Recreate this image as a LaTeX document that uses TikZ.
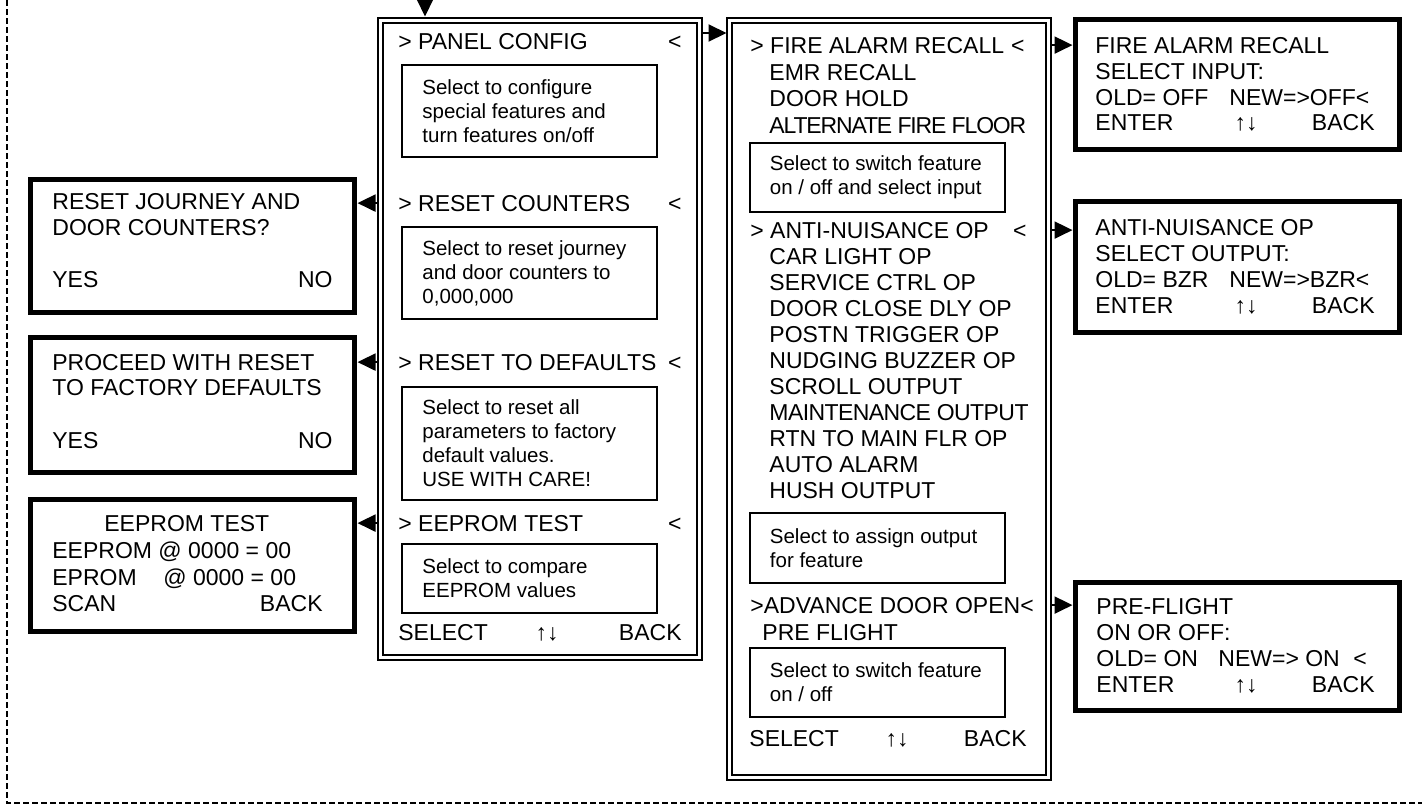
\documentclass[tikz,border=0pt]{standalone}
\usepackage{fontspec}
\setmainfont{Liberation Sans}
\usetikzlibrary{arrows.meta,positioning}
\newcommand\lcdfont{\fontsize{11.5}{13}\selectfont}
\newcommand\hintfont{\fontsize{10.25}{12}\selectfont}
\newcommand\tightlbl[2]{{\addfontfeature{LetterSpace=#1}#2}}
\tikzset{
  x=0.5pt, y=-0.5pt,
  menubox/.style={draw=black,double=white,double distance=1.5pt,line width=1pt,
    outer sep=0pt,inner sep=0pt,anchor=north west,minimum width=159.5pt},
  lcdbox/.style={draw=black,line width=2.5pt,outer sep=0pt,inner sep=0pt,
    anchor=north west,minimum width=162pt},
  hintbox/.style={draw=black,line width=1pt,outer sep=0pt,inner sep=0pt,
    anchor=north west,minimum width=127.5pt},
  hinttxt/.style={align=left,inner sep=0pt,font=\hintfont},
  txt/.style={anchor=base west,inner sep=0pt,font=\lcdfont},
  txtr/.style={anchor=base east,inner sep=0pt,font=\lcdfont},
  txtc/.style={anchor=base,inner sep=0pt,font=\lcdfont},
  flow/.style={-{Triangle[length=9pt,width=8.5pt]},line width=1pt,
    shorten <=1.75pt,shorten >=1.5pt},
  frame/.style={line width=1.1pt,dash pattern=on 3pt off 1.5pt},
}
\begin{document}
\begin{tikzpicture}
  \useasboundingbox (0,0) rectangle (1422,810);
  % ---- dashed surround ----
  \draw[frame] (7,0) |- (1422,803);
  % ---- panel config menu ----
  \node[menubox,minimum height=318.5pt] (cfgmenu) at (380.5,20.5) {};
  \node[txt] (pcfg) at (398,49) {> PANEL CONFIG};
  \node[txtr] (pcfgm) at (682,49) {<};
  \node[hintbox,minimum height=46pt] (cfghint1) at (402,65) {};
  \node[hinttxt,right=10pt of cfghint1.west] (cfgtxt1)
    {Select to configure\\special features and\\turn features on/off};
  \node[txt] (rcnt) at (398,211) {> RESET COUNTERS};
  \node[txtr] (rcntm) at (682,211) {<};
  \node[hintbox,minimum height=46pt] (cfghint2) at (402,227) {};
  \node[hinttxt,right=10pt of cfghint2.west] (cfgtxt2)
    {Select to reset journey\\and door counters to\\0,000,000};
  \node[txt] (rdef) at (398,370) {> RESET TO DEFAULTS};
  \node[txtr] (rdefm) at (682,370) {<};
  \node[hintbox,minimum height=56.5pt] (cfghint3) at (402,387) {};
  \node[hinttxt,right=10pt of cfghint3.west] (cfgtxt3)
    {Select to reset all\\parameters to factory\\default values.\\USE WITH CARE!};
  \node[txt] (eetst) at (398,531) {> EEPROM TEST};
  \node[txtr] (eetstm) at (682,531) {<};
  \node[hintbox,minimum height=34.5pt] (cfghint4) at (402,544) {};
  \node[hinttxt,right=10pt of cfghint4.west] (cfgtxt4)
    {Select to compare\\EEPROM values};
  \node[txt] (cfgsel) at (398,640) {SELECT};
  \node[txtc] (cfgud) at (547,640) {↑↓};
  \node[txtr] (cfgbk) at (682,640) {BACK};
  % ---- special features menu ----
  \node[menubox,minimum height=378.5pt] (featmenu) at (729.5,20.5) {};
  \node[txt] (fire) at (750,53) {> FIRE ALARM RECALL};
  \node[txtr] (firem) at (1025,53) {<};
  \foreach \t [count=\i] in {EMR RECALL,DOOR HOLD,{\tightlbl{-5}{ALTERNATE FIRE FLOOR}}}
    \node[txt] (in\i) at (769,{80+26.5*(\i-1)}) {\t};
  \node[hintbox,minimum height=34.5pt] (feathint1) at (749.5,143) {};
  \node[hinttxt,right=10pt of feathint1.west] (feattxt1)
    {Select to switch feature\\on / off and select input};
  \node[txt] (anop) at (750,238) {> ANTI-NUISANCE OP};
  \node[txtr] (anopm) at (1027,238) {<};
  \foreach \t [count=\i] in {CAR LIGHT OP,SERVICE CTRL OP,DOOR CLOSE DLY OP,
      POSTN TRIGGER OP,NUDGING BUZZER OP,SCROLL OUTPUT,
      {\tightlbl{-2.5}{MAINTENANCE OUTPUT}},
      RTN TO MAIN FLR OP,AUTO ALARM,HUSH OUTPUT}
    \node[txt] (out\i) at (769,{264+26*(\i-1)}) {\t};
  \node[hintbox,minimum height=35pt] (feathint2) at (749.5,513) {};
  \node[hinttxt,right=10pt of feathint2.west] (feattxt2)
    {Select to assign output\\for feature};
  \node[txt] (adv) at (750,613) {>ADVANCE DOOR OPEN<};
  \node[txt] (pflt) at (762,640) {PRE FLIGHT};
  \node[hintbox,minimum height=34.5pt] (feathint3) at (749.5,648) {};
  \node[hinttxt,right=10pt of feathint3.west] (feattxt3)
    {Select to switch feature\\on / off};
  \node[txt] (featsel) at (749,746) {SELECT};
  \node[txtc] (featud) at (897,746) {↑↓};
  \node[txtr] (featbk) at (1027,746) {BACK};
  % ---- displays, right ----
  \node[lcdbox,minimum height=65pt] (fadisp) at (1075.5,19.5) {};
  \node[txt] (fatxt1) at (1095,53) {FIRE ALARM RECALL};
  \node[txt] (fatxt2) at (1095,79) {SELECT INPUT:};
  \node[txt] (faold) at (1095,105) {OLD= OFF};
  \node[txt] (fanew) at (1229,105) {NEW=>OFF<};
  \node[txt] (faent) at (1095,130) {ENTER};
  \node[txtc] (faud) at (1246,130) {↑↓};
  \node[txtr] (fabk) at (1375,130) {BACK};
  \node[lcdbox,minimum height=65.75pt] (andisp) at (1075.5,201) {};
  \node[txt] (antxt1) at (1095,235) {ANTI-NUISANCE OP};
  \node[txt] (antxt2) at (1095,261) {SELECT OUTPUT:};
  \node[txt] (anold) at (1095,287) {OLD= BZR};
  \node[txt] (annew) at (1229,287) {NEW=>BZR<};
  \node[txt] (anent) at (1095,313) {ENTER};
  \node[txtc] (anud) at (1246,313) {↑↓};
  \node[txtr] (anbk) at (1375,313) {BACK};
  \node[lcdbox,minimum height=64pt] (pfdisp) at (1075.5,582) {};
  \node[txt] (pftxt1) at (1096,614) {PRE-FLIGHT};
  \node[txt] (pftxt2) at (1096,640) {ON OR OFF:};
  \node[txt] (pfold) at (1096,666) {OLD= ON};
  \node[txt] (pfnew) at (1218,666) {NEW=> ON};
  \node[txt] (pfnewm) at (1353,666) {<};
  \node[txt] (pfent) at (1096,692) {ENTER};
  \node[txtc] (pfud) at (1246,692) {↑↓};
  \node[txtr] (pfbk) at (1375,692) {BACK};
  % ---- displays, left ----
  \node[lcdbox,minimum height=66.5pt] (rcdisp) at (30.5,179) {};
  \node[txt] (rctxt1) at (52,209) {RESET JOURNEY AND};
  \node[txt] (rctxt2) at (52,235) {DOOR COUNTERS?};
  \node[txt] (rcyes) at (52,287) {YES};
  \node[txtr] (rcno) at (333,287) {NO};
  \node[lcdbox,minimum height=67.5pt] (rddisp) at (30.5,337.5) {};
  \node[txt] (rdtxt1) at (52,370) {PROCEED WITH RESET};
  \node[txt] (rdtxt2) at (52,395) {TO FACTORY DEFAULTS};
  \node[txt] (rdyes) at (52,448) {YES};
  \node[txtr] (rdno) at (333,448) {NO};
  \node[lcdbox,minimum height=66pt] (eedisp) at (30.5,499.5) {};
  \node[txt] (eetxt1) at (104,531) {EEPROM TEST};
  \node[txt] (eetxt2) at (52,558) {EEPROM @ 0000 = 00};
  \node[txt] (eetxt3) at (52,585) {EPROM};
  \node[txt] (eetxt4) at (163,585) {@ 0000 = 00};
  \node[txt] (eescan) at (52,611) {SCAN};
  \node[txtr] (eebk) at (323,611) {BACK};
  % ---- connectors ----
  \coordinate (entry) at (425,-6);
  \draw[flow,shorten >=2pt] (entry) -- (entry |- cfgmenu.north);
  \draw[flow] (cfgmenu.east |- 0,33) -- (featmenu.west |- 0,33);
  \draw[flow] (featmenu.east |- fire) -- (fadisp.west |- fire);
  \draw[flow] (featmenu.east |- anop) -- (andisp.west |- anop);
  \draw[flow] (featmenu.east |- adv) -- (pfdisp.west |- adv);
  \draw[flow] (cfgmenu.west |- rcnt) -- (rcdisp.east |- rcnt);
  \draw[flow] (cfgmenu.west |- rdef) -- (rddisp.east |- rdef);
  \draw[flow] (cfgmenu.west |- eetst) -- (eedisp.east |- eetst);
\end{tikzpicture}
\end{document}
